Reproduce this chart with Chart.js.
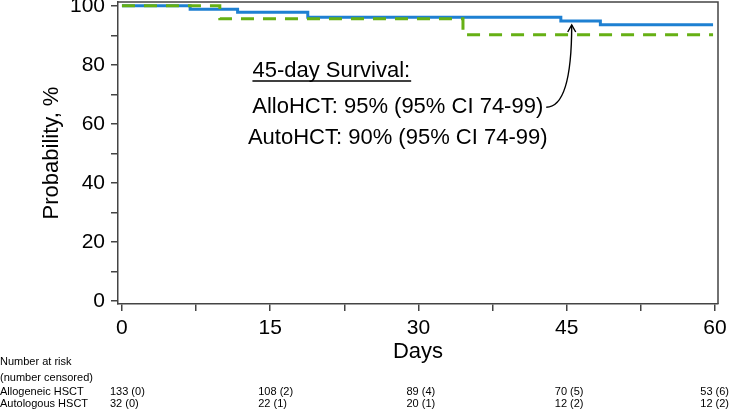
<!DOCTYPE html>
<html>
<head>
<meta charset="utf-8">
<script src="https://cdn.jsdelivr.net/npm/chart.js@4/dist/chart.umd.min.js"></script>
<style>
  html, body { margin: 0; padding: 0; background: #fff; }
  #wrap { width: 729px; height: 413px; position: relative; }
</style>
</head>
<body>
<div id="wrap"><canvas id="kmchart"></canvas></div>
<script>
// Kaplan-Meier steps (day of event, survival % after it)
const alloDays = [0, 6.9, 11.7, 18.8, 44.4, 48.4, 59.8];
const alloSurv = [100, 98.8, 97.8, 96.1, 94.9, 93.6, 93.6];
const autoDays = [0, 9.9, 34.5, 59.8];
const autoSurv = [100, 95.6, 90.2, 90.2];

const xTickValues = [0, 7.5, 15, 22.5, 30, 37.5, 45, 52.5, 60];
const yTickValues = [0, 10, 20, 30, 40, 50, 60, 70, 80, 90, 100];

// number at risk table
const riskDays = [0, 15, 30, 45, 60];
const riskGroups = ["Allogeneic HSCT", "Autologous HSCT"];
const alloRisk = ["133 (0)", "108 (2)", "89 (4)", "70 (5)", "53 (6)"];
const autoRisk = ["32 (0)", "22 (1)", "20 (1)", "12 (2)", "12 (2)"];

const noteTitle = "45-day Survival:";
const noteLines = ["AlloHCT: 95% (95% CI 74-99)", "AutoHCT: 90% (95% CI 74-99)"];

const FONT = "'Liberation Sans', Arial, sans-serif";
const BLUE = "#1e80d2";
const GREEN = "#66b014";
const AXIS = "#444";

const toXY = (xs, ys) => xs.map((x, i) => ({ x: x, y: ys[i] }));

const extras = {
  id: "extras",
  afterDraw(chart) {
    const ctx = chart.ctx;
    const xs = chart.scales.x, ys = chart.scales.y;
    const area = chart.chartArea;
    ctx.save();

    // top and right frame
    ctx.strokeStyle = AXIS;
    ctx.lineWidth = 1.5;
    ctx.beginPath();
    ctx.moveTo(area.left, area.top);
    ctx.lineTo(area.right, area.top);
    ctx.lineTo(area.right, area.bottom);
    ctx.stroke();

    // annotation
    ctx.fillStyle = "#000";
    ctx.font = "22px " + FONT;
    ctx.textBaseline = "alphabetic";
    ctx.textAlign = "left";
    const tx = xs.getPixelForValue(13.2);
    const ty = ys.getPixelForValue(76.0);
    ctx.fillText(noteTitle, tx, ty);
    const tw = ctx.measureText(noteTitle).width;
    ctx.lineWidth = 1.5;
    ctx.strokeStyle = "#000";
    ctx.beginPath();
    ctx.moveTo(tx, ty + 4.5);
    ctx.lineTo(tx + tw + 1, ty + 4.5);
    ctx.stroke();

    ctx.textAlign = "center";
    const cx = xs.getPixelForValue(27.9);
    const lineY = [ys.getPixelForValue(63.6), ys.getPixelForValue(53.3)];
    noteLines.forEach((t, i) => ctx.fillText(t, cx, lineY[i]));

    // curved arrow to the allo curve at day 45
    const w0 = ctx.measureText(noteLines[0]).width;
    const sx = cx + w0 / 2 + 3, sy = lineY[0] - 6;
    const px = xs.getPixelForValue(45.5), py = ys.getPixelForValue(93.5);
    ctx.lineWidth = 1.4;
    ctx.beginPath();
    ctx.moveTo(sx, sy);
    ctx.quadraticCurveTo(px, sy, px, py);
    ctx.stroke();
    ctx.beginPath();
    ctx.moveTo(px - 4, py + 7);
    ctx.lineTo(px, py);
    ctx.lineTo(px + 4, py + 7);
    ctx.stroke();

    // number at risk table
    ctx.font = "11px " + FONT;
    ctx.textAlign = "left";
    ctx.textBaseline = "middle";
    const rowY = [362, 377.5, 392, 404];
    ctx.fillText("Number at risk", 0, rowY[0]);
    ctx.fillText("(number censored)", 0, rowY[1]);
    [alloRisk, autoRisk].forEach((row, r) => {
      ctx.fillText(riskGroups[r], 0, rowY[r + 2]);
      row.forEach((t, i) => {
        const w = ctx.measureText(t).width;
        const x = Math.min(xs.getPixelForValue(riskDays[i]) - 12, chart.width - w);
        ctx.fillText(t, x, rowY[r + 2]);
      });
    });
    ctx.restore();
  }
};

new Chart("kmchart", {
  type: "line",
  data: {
    datasets: [
      {
        label: "Autologous HSCT",
        data: toXY(autoDays, autoSurv),
        borderColor: GREEN,
        borderWidth: 3,
        borderDash: [13, 9],
        stepped: "before",
        pointRadius: 0,
        fill: false
      },
      {
        label: "Allogeneic HSCT",
        data: toXY(alloDays, alloSurv),
        borderColor: BLUE,
        borderWidth: 3,
        stepped: "before",
        pointRadius: 0,
        fill: false
      }
    ]
  },
  options: {
    responsive: true,
    maintainAspectRatio: false,
    animation: false,
    layout: { padding: { top: 2, right: 11, bottom: 0, left: 0 } },
    plugins: { legend: { display: false }, tooltip: { enabled: false } },
    scales: {
      x: {
        type: "linear",
        min: -0.4,
        max: 60.3,
        afterBuildTicks: (axis) => { axis.ticks = xTickValues.map(v => ({ value: v })); },
        afterFit: (axis) => { axis.height = 109; axis.paddingLeft = 0; axis.paddingRight = 0; },
        ticks: {
          color: "#000",
          font: { family: FONT, size: 21 },
          padding: 5,
          maxRotation: 0,
          autoSkip: false,
          callback: (v) => (v % 15 === 0 ? v : "")
        },
        grid: { drawOnChartArea: false, drawTicks: true, tickLength: 7, color: AXIS, lineWidth: 1.5 },
        border: { display: true, color: AXIS, width: 1.5 },
        title: {
          display: true,
          text: "Days",
          color: "#000",
          font: { family: FONT, size: 22 },
          padding: { top: 0, bottom: 48 }
        }
      },
      y: {
        min: -1.1,
        max: 101.3,
        afterBuildTicks: (axis) => { axis.ticks = yTickValues.map(v => ({ value: v })); },
        afterFit: (axis) => { axis.width = 118; axis.paddingTop = 0; axis.paddingBottom = 0; },
        ticks: {
          color: "#000",
          font: { family: FONT, size: 21 },
          padding: 6,
          autoSkip: false,
          callback: (v) => (v % 20 === 0 ? v : "")
        },
        grid: { drawOnChartArea: false, drawTicks: true, tickLength: 7, color: AXIS, lineWidth: 1.5 },
        border: { display: true, color: AXIS, width: 1.5 },
        title: {
          display: true,
          text: "Probability, %",
          color: "#000",
          font: { family: FONT, size: 22 },
          padding: { top: 39, bottom: 0 }
        }
      }
    }
  },
  plugins: [extras]
});
</script>
</body>
</html>
